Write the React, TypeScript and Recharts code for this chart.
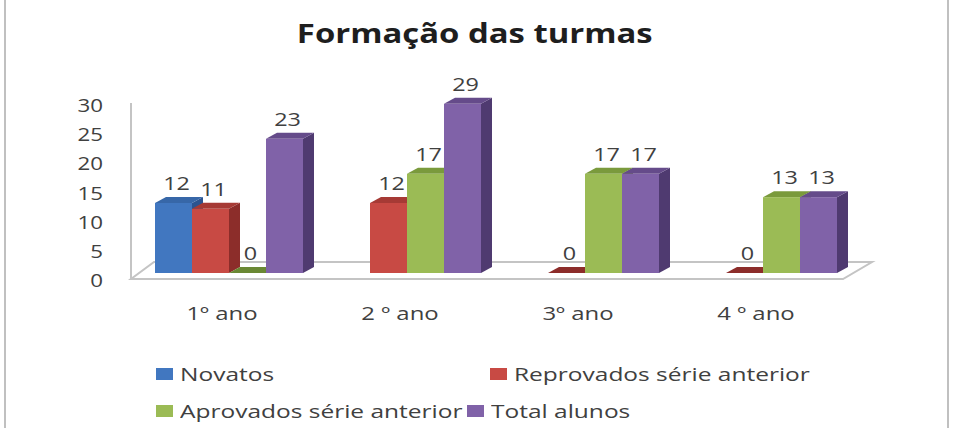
import React from 'react';
import * as R from 'recharts';
import { BarChart, Bar, XAxis, YAxis, LabelList } from 'recharts';

const categories = ['1º ano', '2 º ano', '3º ano', '4 º ano'];
const novatos: (number | null)[] = [12, null, null, null];
const reprovados: (number | null)[] = [11, 12, 0, 0];
const aprovados: (number | null)[] = [0, 17, 17, 13];
const totalAlunos: (number | null)[] = [23, 29, 17, 13];
const yTicks = [0, 5, 10, 15, 20, 25, 30];
const seriesNames = ['Novatos', 'Reprovados série anterior', 'Aprovados série anterior', 'Total alunos'];
const title = 'Formação das turmas';

const data = categories.map((c, i) => ({
  cat: c,
  novatos: novatos[i],
  reprovados: reprovados[i],
  aprovados: aprovados[i],
  total: totalAlunos[i],
}));

const FONT = '"Open Sans", "DejaVu Sans", sans-serif';
const TEXT = '#404040';
const DX = 11;
const DY = 6;

const palette = {
  novatos: { front: '#4177c0', top: '#3767a8', side: '#2c5490' },
  reprovados: { front: '#c84a44', top: '#a63a35', side: '#8c2d2a' },
  aprovados: { front: '#9bbb55', top: '#7a9a3c', side: '#6a8834' },
  total: { front: '#8062a8', top: '#654b8a', side: '#4f3a70' },
};

const SText = ({ x, y, sx, anchor, size, children }: any) => (
  <text
    transform={`translate(${x},${y}) scale(${sx},1)`}
    x={0}
    y={0}
    textAnchor={anchor}
    dominantBaseline="central"
    fill={TEXT}
    fontSize={size}
    fontFamily={FONT}
  >
    {children}
  </text>
);

const makeShape = (c: { front: string; top: string; side: string }) => (props: any) => {
  const { x, y, width, height, value } = props;
  if (value == null || x == null) return <g />;
  const w = width;
  const h = Math.max(0, height);
  const topPts = `${x},${y} ${x + w},${y} ${x + w + DX},${y - DY} ${x + DX},${y - DY}`;
  if (h <= 0.5) {
    return <polygon points={topPts} fill={c.side} />;
  }
  const sidePts = `${x + w},${y} ${x + w + DX},${y - DY} ${x + w + DX},${y + h - DY} ${x + w},${y + h}`;
  return (
    <g>
      <polygon points={sidePts} fill={c.side} />
      <polygon points={topPts} fill={c.top} />
      <rect x={x} y={y} width={w} height={h} fill={c.front} />
    </g>
  );
};

const renderValueLabel = (props: any) => {
  const { x, y, width, value } = props;
  if (value == null) return null;
  return (
    <SText x={x + width / 2 + 3} y={y - 20} sx={1.3} anchor="middle" size={18}>
      {value}
    </SText>
  );
};

const YTick = (props: any) => {
  const { y, payload } = props;
  return (
    <SText x={103} y={y + 7} sx={1.24} anchor="end" size={18}>
      {payload.value}
    </SText>
  );
};

const XTick = (props: any) => {
  const { x, y, payload } = props;
  return (
    <SText x={x - 7} y={y + 32} sx={1.33} anchor="middle" size={18}>
      {payload.value}
    </SText>
  );
};

function Floor() {
  const anyR = R as any;
  const pa = anyR.usePlotArea ? anyR.usePlotArea() : null;
  if (!pa) return null;
  const L = pa.x;
  const Rt = pa.x + pa.width;
  const T = pa.y;
  const B = pa.y + pa.height;
  const fl = { x: L - 9, y: B + 6 };
  const fr = { x: Rt - 9, y: B + 6 };
  const br = { x: Rt + 20, y: B - 11 };
  const bl = { x: L + 14, y: B - 11 };
  return (
    <g>
      <polygon
        points={`${fl.x},${fl.y} ${fr.x},${fr.y} ${br.x},${br.y} ${bl.x},${bl.y}`}
        fill="#ffffff"
        stroke="#c4c4c4"
        strokeWidth={2}
      />
      <line x1={fl.x} y1={fl.y} x2={fl.x} y2={T + 5} stroke="#c4c4c4" strokeWidth={2} />
    </g>
  );
}

const legendItems = [
  { name: seriesNames[0], color: palette.novatos.front, left: 156, top: 374 },
  { name: seriesNames[1], color: palette.reprovados.front, left: 490, top: 374 },
  { name: seriesNames[2], color: palette.aprovados.front, left: 156, top: 411 },
  { name: seriesNames[3], color: palette.total.front, left: 467, top: 411 },
];

export default function App() {
  return (
    <div style={{ position: 'absolute', left: 0, top: 0, width: 959, height: 428, background: '#fff', overflow: 'hidden', fontFamily: FONT }}>
      <div
        style={{
          position: 'absolute',
          left: 4,
          top: -10,
          width: 941,
          height: 460,
          borderLeft: '2px solid #c0c0c0',
          borderRight: '2px solid #c0c0c0',
        }}
      />
      <div
        style={{
          position: 'absolute',
          left: 0,
          width: 950,
          top: 20,
          textAlign: 'center',
          fontSize: 26.5,
          fontWeight: 700,
          color: '#1e1e1e',
          lineHeight: 1,
          transform: 'scaleX(1.24)',
          transformOrigin: '476px 0',
        }}
      >
        {title}
      </div>
      <div style={{ position: 'absolute', left: 0, top: 0 }}>
        <BarChart
          width={959}
          height={428}
          data={data}
          margin={{ top: 98, right: 107, bottom: 125, left: 80 }}
          barGap={0}
          barSize={37}
        >
          <Floor />
          <XAxis dataKey="cat" axisLine={false} tickLine={false} tick={<XTick />} interval={0} />
          <YAxis domain={[0, 30]} ticks={yTicks} axisLine={false} tickLine={false} tick={<YTick />} width={60} />
          <Bar dataKey="novatos" isAnimationActive={false} shape={makeShape(palette.novatos)}>
            <LabelList dataKey="novatos" content={renderValueLabel} />
          </Bar>
          <Bar dataKey="reprovados" isAnimationActive={false} shape={makeShape(palette.reprovados)}>
            <LabelList dataKey="reprovados" content={renderValueLabel} />
          </Bar>
          <Bar dataKey="aprovados" isAnimationActive={false} shape={makeShape(palette.aprovados)}>
            <LabelList dataKey="aprovados" content={renderValueLabel} />
          </Bar>
          <Bar dataKey="total" isAnimationActive={false} shape={makeShape(palette.total)}>
            <LabelList dataKey="total" content={renderValueLabel} />
          </Bar>
        </BarChart>
      </div>
      {legendItems.map((it) => (
        <div
          key={it.name}
          style={{
            position: 'absolute',
            left: it.left,
            top: it.top - 12,
            height: 24,
            display: 'flex',
            alignItems: 'center',
            fontSize: 18,
            color: TEXT,
            whiteSpace: 'nowrap',
          }}
        >
          <span style={{ display: 'inline-block', width: 17, height: 12, background: it.color, marginRight: 7, flex: 'none' }} />
          <span style={{ display: 'inline-block', transform: 'scaleX(1.36)', transformOrigin: '0 50%' }}>{it.name}</span>
        </div>
      ))}
    </div>
  );
}
